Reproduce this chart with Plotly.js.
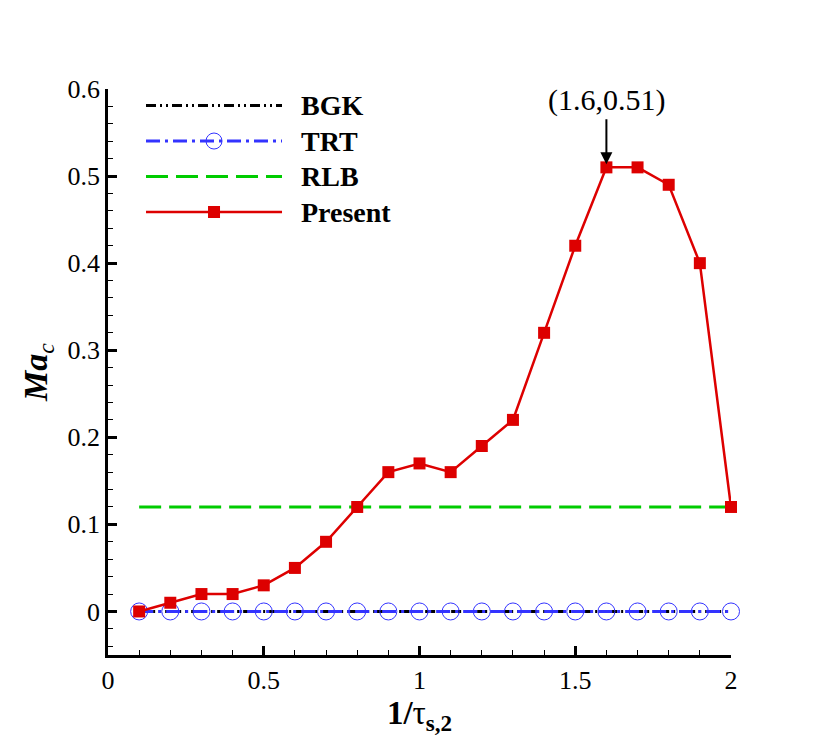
<!DOCTYPE html>
<html>
<head>
<meta charset="utf-8">
<script src="https://cdn.plot.ly/plotly-3.0.1.min.js"></script>
<style>
  body { margin: 0; background: #fff; }
  #myDiv { width: 830px; height: 739px; }
</style>
</head>
<body>
<div id="myDiv"></div>
<script>
// values
var tauInv = [0.1, 0.2, 0.3, 0.4, 0.5, 0.6, 0.7, 0.8, 0.9, 1.0,
              1.1, 1.2, 1.3, 1.4, 1.5, 1.6, 1.7, 1.8, 1.9, 2.0];
var bgk = [0, 0, 0, 0, 0, 0, 0, 0, 0, 0, 0, 0, 0, 0, 0, 0, 0, 0, 0, 0];
var trt = [0, 0, 0, 0, 0, 0, 0, 0, 0, 0, 0, 0, 0, 0, 0, 0, 0, 0, 0, 0];
var rlbX = [0.1, 2.0];
var rlb = [0.12, 0.12];
var present = [0, 0.01, 0.02, 0.02, 0.03, 0.05, 0.08, 0.12, 0.16, 0.17,
               0.16, 0.19, 0.22, 0.32, 0.42, 0.51, 0.51, 0.49, 0.40, 0.12];
var peak = { x: 1.6, y: 0.51, label: "(1.6,0.51)" };
var names = ["BGK", "TRT", "RLB", "Present"];

var serif = "Liberation Serif";

// legend rows are spaced from the base legend font; the label itself is drawn larger
function legName(s) {
  return '<span style="font-size:28px">\u00a0\u00a0' + s + '</span>';
}

var trace1 = {
  x: tauInv, y: bgk, name: legName(names[0]), legendgroup: "a",
  type: "scatter", mode: "lines", cliponaxis: false,
  line: { color: "#000000", width: 3, dash: "10px,4px,2px,4px,2px,4px" }
};
var trace2 = {
  x: tauInv, y: trt, name: legName(names[1]), legendgroup: "b",
  type: "scatter", mode: "lines+markers", cliponaxis: false,
  line: { color: "#3333ff", width: 3, dash: "14px,5px,3px,5px" },
  marker: { symbol: "circle-open", size: 17, color: "#3333ff", line: { width: 1, color: "#3333ff" } }
};
var trace3 = {
  x: rlbX, y: rlb, name: legName(names[2]), legendgroup: "c",
  type: "scatter", mode: "lines", cliponaxis: false,
  line: { color: "#00cc00", width: 3, dash: "22px,8px" }
};
var trace4 = {
  x: tauInv, y: present, name: legName(names[3]), legendgroup: "d",
  type: "scatter", mode: "lines+markers", cliponaxis: false,
  line: { color: "#dd0000", width: 2.5 },
  marker: { symbol: "square", size: 12, color: "#dd0000" }
};

var data = [trace1, trace2, trace3, trace4];

var layout = {
  width: 830, height: 739,
  paper_bgcolor: "#ffffff", plot_bgcolor: "#ffffff",
  margin: { l: 108, r: 99, t: 89, b: 84 },
  font: { family: serif, color: "#000" },
  showlegend: true,
  legend: {
    x: 0.053, y: 1.011, xanchor: "left", yanchor: "top",
    traceorder: "grouped", tracegroupgap: 0,
    itemwidth: 136,
    font: { family: serif, size: 25, weight: "bold", color: "#000" },
    bgcolor: "rgba(0,0,0,0)"
  },
  xaxis: {
    range: [0, 2], dtick: 0.5, tick0: 0,
    showgrid: false, zeroline: false,
    showline: true, linewidth: 2.5, linecolor: "#000",
    ticks: "inside", ticklen: 9, tickwidth: 2.5, tickcolor: "#000",
    minor: { dtick: 0.1, ticks: "inside", ticklen: 5, tickwidth: 1, tickcolor: "#000" },
    tickfont: { family: serif, size: 26, color: "#000" },
    title: { text: "<b>1/</b>τ<sub><b>s,2</b></sub>", font: { family: serif, size: 33 }, standoff: 4 }
  },
  yaxis: {
    range: [-0.05, 0.6], dtick: 0.1, tick0: 0,
    showgrid: false, zeroline: false,
    showline: true, linewidth: 2.5, linecolor: "#000",
    ticks: "inside", ticklen: 9, tickwidth: 2.5, tickcolor: "#000",
    minor: { dtick: 0.02, ticks: "inside", ticklen: 5, tickwidth: 1, tickcolor: "#000" },
    tickfont: { family: serif, size: 26, color: "#000" },
    title: { text: "<b><i>Ma</i></b><sub><i>c</i></sub>", font: { family: serif, size: 34 }, standoff: 10 }
  },
  annotations: [{
    x: peak.x, y: peak.y, xref: "x", yref: "y",
    text: peak.label, showarrow: true,
    arrowhead: 2, arrowsize: 1.2, arrowwidth: 2, arrowcolor: "#000",
    ax: 0, ay: -48, standoff: 3,
    font: { family: serif, size: 30, color: "#000" },
    yanchor: "bottom"
  }]
};

Plotly.newPlot("myDiv", data, layout, { displayModeBar: false });
</script>
</body>
</html>
